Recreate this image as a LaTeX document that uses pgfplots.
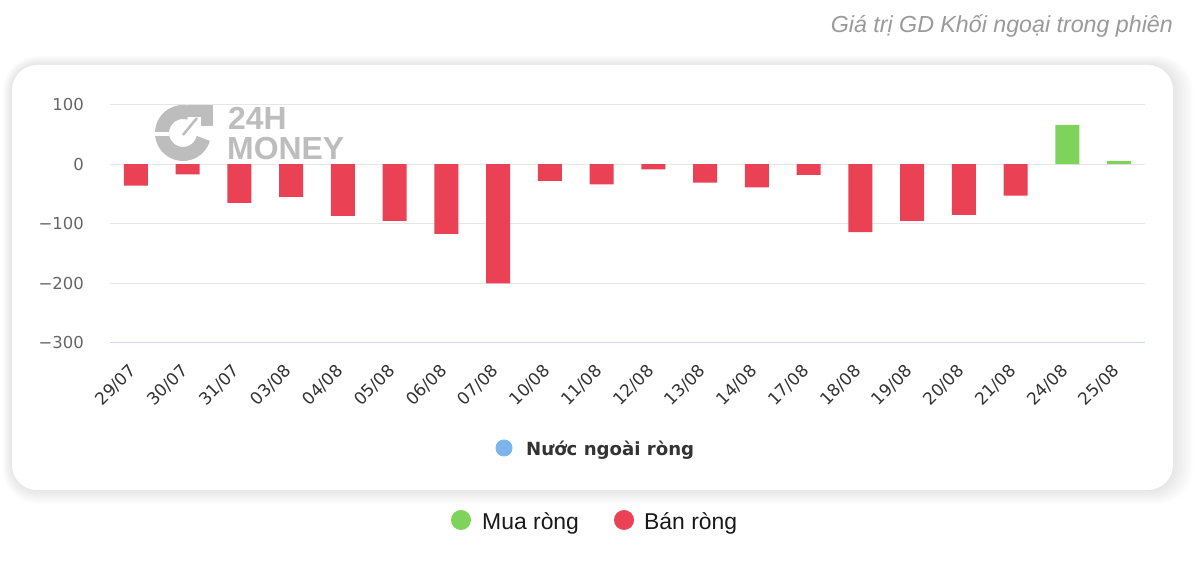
\documentclass[border=0pt]{standalone}
\usepackage{pgfplots}
\pgfplotsset{compat=1.18}
\usepackage{fontspec}
\setmainfont{DejaVu Sans}
\newfontfamily\lib{Liberation Sans}
\definecolor{barred}{HTML}{EB4155}
\definecolor{bargreen}{HTML}{7ED35A}
\definecolor{legblue}{HTML}{7CB5EC}
\definecolor{gridc}{HTML}{E6E6E6}
\definecolor{axisc}{HTML}{CCD6EB}
\definecolor{ticktxt}{HTML}{666666}
\definecolor{xtxt}{HTML}{333333}
\definecolor{wm}{HTML}{BDBDBD}
\definecolor{titlec}{HTML}{9A9A9A}
\begin{document}
\begin{tikzpicture}[x=1bp,y=1bp]
% page
\fill[white] (0,0) rectangle (1200,573);
% card shadow
\foreach \i in {1,...,12}{
  \fill[black, opacity=0.009, rounded corners={25bp+\i bp}] (12-\i*0.8, 83-\i*1.2) rectangle (1173+\i*1.7, 508+\i*0.8);
}
\fill[white, rounded corners=25bp] (12,83) rectangle (1173,508);
% title
\node[anchor=base east, inner sep=0pt, text=titlec, font=\lib\itshape\fontsize{23.3}{28}\selectfont] at (1173,540) {Giá trị GD Khối ngoại trong phiên};
% watermark
\begin{scope}
\draw[wm, line width=14bp] (183,440) ++(75:21) arc (75:345:21);
\fill[wm] (188,456) rectangle (213,468);
\fill[wm] (201,447) rectangle (213,468);
\draw[wm, line width=2.5bp] (183,438) -- (197,455);
\fill[white] (150,437) rectangle (170,441);
\node[anchor=base west, inner sep=0pt, text=wm, font=\lib\bfseries\fontsize{32}{34}\selectfont] at (228,443) {24H};
\node[anchor=base west, inner sep=0pt, text=wm, font=\lib\bfseries\fontsize{32}{34}\selectfont] at (227,413) {MONEY};
\end{scope}
\begin{axis}[
  at={(110bp,230bp)}, anchor=south west,
  scale only axis, width=1035bp, height=238.5bp,
  xmin=-0.5, xmax=19.5, ymin=-300, ymax=100,
  axis lines*=left,
  x axis line style={draw=axisc, line width=1bp},
  y axis line style={draw=none},
  tick style={draw=none},
  ymajorgrids, major grid style={draw=gridc, line width=1bp},
  ytick={-300,-200,-100,0,100},
  yticklabels={−300,−200,−100,0,100},
  yticklabel style={font=\fontsize{16.5}{20}\selectfont, text=ticktxt, inner sep=0pt, anchor=east, xshift=-26bp},
  xtick={0,...,19},
  xticklabels={29/07,30/07,31/07,03/08,04/08,05/08,06/08,07/08,10/08,11/08,12/08,13/08,14/08,17/08,18/08,19/08,20/08,21/08,24/08,25/08},
  xticklabel style={font=\fontsize{17}{19}\selectfont, text=xtxt, inner sep=0pt, xshift=-2.5bp, yshift=-25bp, rotate=45, anchor=east},
  clip=false,
]
\addplot[ybar, bar shift=0pt, bar width=24bp, fill=barred, draw=none] coordinates {
(0,-36) (1,-17) (2,-65) (3,-55) (4,-87) (5,-95) (6,-117) (7,-200) (8,-28) (9,-34)
(10,-9) (11,-31) (12,-39) (13,-18) (14,-114) (15,-95) (16,-85) (17,-53)
};
\addplot[ybar, bar shift=0pt, bar width=24bp, fill=bargreen, draw=none] coordinates {
(18,66) (19,5)
};
\end{axis}
% legend inside card
\fill[legblue] (504,125) circle (8.5);
\node[anchor=base west, inner sep=0pt, text=xtxt, font=\bfseries\fontsize{18.2}{20}\selectfont] at (526,117) {Nước ngoài ròng};
% bottom legend
\fill[bargreen] (461,53) circle (10);
\node[anchor=base west, inner sep=0pt, text=black!90, font=\lib\fontsize{23}{26}\selectfont] at (482,43) {Mua ròng};
\fill[barred] (624,53) circle (10);
\node[anchor=base west, inner sep=0pt, text=black!90, font=\lib\fontsize{23}{26}\selectfont] at (644,43) {Bán ròng};
\end{tikzpicture}
\end{document}
